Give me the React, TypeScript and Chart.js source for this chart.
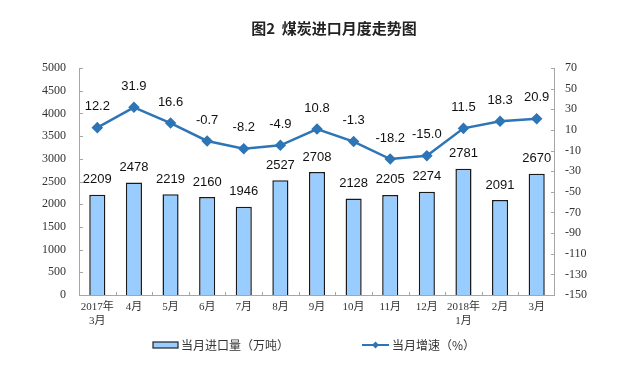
import React, { useEffect, useRef } from "react";
import { Chart, registerables } from "chart.js";
Chart.register(...registerables);

const categories: (string | string[])[] = [["2017年", "3月"], "4月", "5月", "6月", "7月", "8月", "9月", "10月", "11月", "12月", ["2018年", "1月"], "2月", "3月"];
const importVolume = [2209, 2478, 2219, 2160, 1946, 2527, 2708, 2128, 2205, 2274, 2781, 2091, 2670];
const growthRate = [12.2, 31.9, 16.6, -0.7, -8.2, -4.9, 10.8, -1.3, -18.2, -15.0, 11.5, 18.3, 20.9];
const title = "图2  煤炭进口月度走势图";
const legendBar = "当月进口量（万吨）";
const legendLine = "当月增速（%）";

const LINE = "#2E75B6";
const BAR = "#99CCFF";
const AXIS = "#A6A6A6";
const SERIF = "'Liberation Serif', 'DejaVu Serif', 'Noto Sans CJK SC', serif";
const SANS = "'Liberation Sans', Arial, 'Noto Sans CJK SC', sans-serif";

const decor = {
  id: "decor",
  afterDraw(chart: any) {
    const { ctx, chartArea } = chart;
    const { left, right, top, bottom } = chartArea;
    ctx.save();
    ctx.strokeStyle = AXIS;
    ctx.lineWidth = 1;
    ctx.beginPath();
    ctx.moveTo(left + 0.5, top);
    ctx.lineTo(left + 0.5, bottom);
    ctx.moveTo(right - 0.5, top);
    ctx.lineTo(right - 0.5, bottom);
    ctx.moveTo(left, bottom + 0.5);
    ctx.lineTo(right, bottom + 0.5);
    const y = chart.scales.y;
    y.ticks.forEach((t: any) => {
      const py = Math.round(y.getPixelForValue(t.value)) + 0.5;
      ctx.moveTo(left, py);
      ctx.lineTo(left + 4, py);
    });
    const y1 = chart.scales.y1;
    y1.ticks.forEach((t: any) => {
      const py = Math.round(y1.getPixelForValue(t.value)) + 0.5;
      ctx.moveTo(right, py);
      ctx.lineTo(right - 4, py);
    });
    const n = categories.length;
    const w = (right - left) / n;
    for (let i = 1; i < n; i++) {
      const px = Math.round(left + i * w) + 0.5;
      ctx.moveTo(px, bottom);
      ctx.lineTo(px, bottom - 3);
    }
    ctx.stroke();

    ctx.fillStyle = "#111";
    ctx.font = `13px ${SANS}`;
    ctx.textAlign = "center";
    ctx.textBaseline = "middle";
    const barMeta = chart.getDatasetMeta(0);
    barMeta.data.forEach((el: any, i: number) => {
      ctx.fillText(String(importVolume[i]), el.x, el.y - 15);
    });
    const lineMeta = chart.getDatasetMeta(1);
    lineMeta.data.forEach((el: any, i: number) => {
      ctx.fillText(growthRate[i].toFixed(1), el.x, el.y - 21);
    });

    ctx.fillStyle = "#222";
    ctx.font = `bold 15px 'Noto Sans CJK SC', sans-serif`;
    ctx.fillText(title, 334, 28);

    const ly = 345;
    ctx.fillStyle = BAR;
    ctx.fillRect(153, ly - 3, 25, 6);
    ctx.strokeStyle = "#222";
    ctx.lineWidth = 1.2;
    ctx.strokeRect(153, ly - 3, 25, 6);
    ctx.fillStyle = "#333";
    ctx.font = `12px 'Noto Sans CJK SC', sans-serif`;
    ctx.textAlign = "left";
    ctx.fillText(legendBar, 181, ly);

    ctx.strokeStyle = LINE;
    ctx.lineWidth = 2;
    ctx.beginPath();
    ctx.moveTo(362, ly);
    ctx.lineTo(389, ly);
    ctx.stroke();
    ctx.fillStyle = LINE;
    ctx.beginPath();
    ctx.moveTo(375.5, ly - 3.5);
    ctx.lineTo(379, ly);
    ctx.lineTo(375.5, ly + 3.5);
    ctx.lineTo(372, ly);
    ctx.closePath();
    ctx.fill();
    ctx.fillStyle = "#333";
    ctx.fillText(legendLine, 392, ly);
    ctx.restore();
  },
};

export default function App() {
  const ref = useRef<HTMLCanvasElement>(null);
  useEffect(() => {
    const chart = new Chart(ref.current!, {
      type: "bar",
      data: {
        labels: categories as any,
        datasets: [
          {
            type: "bar",
            data: importVolume,
            yAxisID: "y",
            backgroundColor: BAR,
            borderColor: "#1a1a1a",
            borderWidth: 1.5,
            barPercentage: 0.44,
            categoryPercentage: 1,
            order: 2,
          },
          {
            type: "line",
            data: growthRate,
            yAxisID: "y1",
            borderColor: LINE,
            backgroundColor: LINE,
            borderWidth: 2.5,
            pointStyle: "rectRot",
            pointRadius: 4,
            pointBackgroundColor: LINE,
            pointBorderColor: LINE,
            tension: 0,
            order: 1,
          } as any,
        ],
      },
      options: {
        responsive: false,
        animation: false,
        devicePixelRatio: 1,
        layout: { padding: { top: 68, bottom: 34, left: 0, right: 0 } },
        plugins: { legend: { display: false }, tooltip: { enabled: false }, title: { display: false } },
        scales: {
          x: {
            grid: { display: false, drawTicks: false },
            border: { display: false },
            ticks: { color: "#333", font: { family: SERIF, size: 11 }, padding: 6, maxRotation: 0, autoSkip: false },
            afterFit: (s: any) => { s.height = 45; },
          },
          y: {
            position: "left",
            min: 0,
            max: 5000,
            grid: { display: false, drawTicks: false },
            border: { display: false },
            ticks: { stepSize: 500, color: "#333", font: { family: SERIF, size: 12 }, padding: 13, callback: (v: any) => String(v) },
            afterFit: (s: any) => { s.width = 79; },
          },
          y1: {
            position: "right",
            min: -150,
            max: 70,
            grid: { display: false, drawTicks: false },
            border: { display: false },
            ticks: { stepSize: 20, color: "#333", font: { family: SERIF, size: 12 }, padding: 10, callback: (v: any) => String(v) },
            afterFit: (s: any) => { s.width = 83; },
          },
        },
      },
      plugins: [decor],
    });
    return () => chart.destroy();
  }, []);
  return (
    <div style={{ position: "fixed", left: 0, top: 0, width: 638, height: 374, background: "#fff" }}>
      <canvas ref={ref} width={638} height={374} />
    </div>
  );
}
